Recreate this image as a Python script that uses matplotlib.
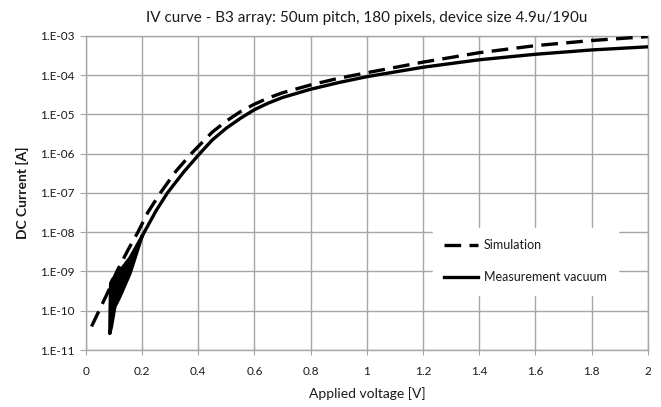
#!/usr/bin/env python

import numpy
from matplotlib import pyplot as plt
from matplotlib.ticker import FixedLocator, NullLocator

# values (current given as log10 of amps)
simVoltage = [0.02, 0.05, 0.08, 0.11, 0.15, 0.185, 0.22, 0.265, 0.32, 0.375,
              0.45, 0.5, 0.55, 0.6, 0.65, 0.7, 0.8, 0.9, 1.0, 1.2, 1.4, 1.6,
              1.8, 2.0]
simLogCurrent = [-10.4, -9.95, -9.5, -9.0, -8.45, -8.0, -7.5, -7.0, -6.45, -6.0,
                 -5.45, -5.17, -4.93, -4.74, -4.58, -4.45, -4.25, -4.08, -3.94,
                 -3.67, -3.43, -3.25, -3.12, -3.02]

# low voltage part of the measurement: down sweep then back up (hysteresis wedge)
measLoopVoltage = [0.2, 0.157, 0.12, 0.095, 0.088, 0.086, 0.085,
                   0.091, 0.103, 0.121, 0.157, 0.2]
measLoopLogCurrent = [-8.1, -8.65, -9.0, -9.2, -9.3, -10.0, -10.58,
                      -10.4, -9.9, -9.64, -9.05, -8.1]

measVoltage = [0.2, 0.25, 0.29, 0.35, 0.405, 0.45, 0.5, 0.55, 0.6, 0.65, 0.7,
               0.8, 0.9, 1.0, 1.2, 1.4, 1.6, 1.8, 2.0]
measLogCurrent = [-8.1, -7.45, -7.0, -6.45, -6.0, -5.65, -5.35, -5.1, -4.88,
                  -4.71, -4.57, -4.36, -4.19, -4.04, -3.80, -3.61, -3.47,
                  -3.36, -3.28]

xTicks = [0, 0.2, 0.4, 0.6, 0.8, 1, 1.2, 1.4, 1.6, 1.8, 2]
xTickLabels = ["0", "0.2", "0.4", "0.6", "0.8", "1", "1.2", "1.4", "1.6", "1.8", "2"]
yTicks = [1e-11, 1e-10, 1e-9, 1e-8, 1e-7, 1e-6, 1e-5, 1e-4, 1e-3]
yTickLabels = ["1.E-11", "1.E-10", "1.E-09", "1.E-08", "1.E-07", "1.E-06",
               "1.E-05", "1.E-04", "1.E-03"]

plt.rcParams['font.family'] = ['Lato', 'DejaVu Sans']

fig = plt.figure(figsize=(6.61, 4.07), dpi=100)
ax = fig.add_axes([0.130, 0.140, 0.850, 0.772])

gridColor = "#a6a6a6"
textColor = "#1a1a1a"
ax.set_yscale("log")
ax.set_xlim(0, 2)
ax.set_ylim(1e-11, 1e-3)

ax.grid(True, color=gridColor, linewidth=1.0, zorder=0)
ax.set_axisbelow(True)
for side in ax.spines.values():
    side.set_color(gridColor)
    side.set_linewidth(1.0)

ax.xaxis.set_major_locator(FixedLocator(xTicks))
ax.set_xticklabels(xTickLabels)
ax.yaxis.set_major_locator(FixedLocator(yTicks))
ax.yaxis.set_minor_locator(NullLocator())
ax.set_yticklabels(yTickLabels)
ax.tick_params(axis="x", direction="inout", length=7, color=gridColor,
               labelsize=8.5, pad=8, labelcolor=textColor)
ax.tick_params(axis="y", direction="out", length=4, color=gridColor,
               labelsize=8.5, pad=4, labelcolor=textColor)

lineWidth = 2.4
ax.plot(simVoltage, 10 ** numpy.array(simLogCurrent), color="black",
        linewidth=lineWidth, dashes=(5, 2.5), label="Simulation", zorder=3)
ax.fill(measLoopVoltage, 10 ** numpy.array(measLoopLogCurrent), color="black",
        zorder=3)
ax.plot(measLoopVoltage, 10 ** numpy.array(measLoopLogCurrent), color="black",
        linewidth=lineWidth, solid_joinstyle="round", zorder=3)
ax.plot(measVoltage, 10 ** numpy.array(measLogCurrent), color="black",
        linewidth=lineWidth, solid_joinstyle="round", label="Measurement vacuum",
        zorder=3)

ax.set_title("IV curve - B3 array: 50um pitch, 180 pixels, device size 4.9u/190u",
             fontsize=11, pad=10, color=textColor)
ax.set_xlabel("Applied voltage [V]", fontsize=10, labelpad=7, color=textColor)
ax.set_ylabel("DC Current [A]", fontsize=10, fontweight="bold", labelpad=8,
              color=textColor)

leg = ax.legend(loc="upper left", bbox_to_anchor=(0.617, 0.388), borderaxespad=0,
                frameon=True, fancybox=False, framealpha=1, edgecolor="white",
                facecolor="white", fontsize=9, handlelength=2.7, labelspacing=1.6,
                borderpad=0.9, handletextpad=0.5)
for text in leg.get_texts():
    text.set_color(textColor)

fig.savefig("out.png", dpi=100)
